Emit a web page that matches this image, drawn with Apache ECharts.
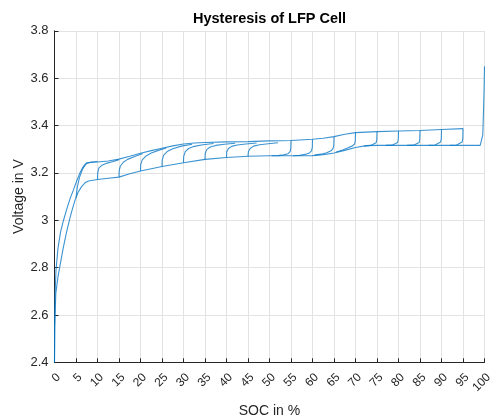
<!DOCTYPE html>
<html>
<head>
<meta charset="utf-8">
<script src="https://cdn.jsdelivr.net/npm/echarts@6/dist/echarts.min.js"></script>
<style>
  html, body { margin: 0; padding: 0; background: #fff; }
  #chart { width: 494px; height: 419px; }
</style>
</head>
<body>
<div id="chart"></div>
<script>
// values: [SOC %, voltage V]
const chargeBranch = [[0, 2.40], [0.03, 2.55], [0.12, 2.68], [0.35, 2.79], [0.8, 2.88], [1.4, 2.95], [2.1, 3.00], [2.9, 3.05], [3.6, 3.09], [4.4, 3.128], [5.2, 3.168], [5.9, 3.199], [6.5, 3.221], [7.0, 3.234], [7.5, 3.243], [10, 3.246], [12.5, 3.250], [15, 3.258], [17.5, 3.270], [20, 3.283], [22.5, 3.294], [25, 3.304], [27.5, 3.314], [30, 3.322], [32.5, 3.326], [35, 3.328], [40, 3.331], [45, 3.332], [50, 3.335], [55, 3.337], [60, 3.342], [62.5, 3.346], [65, 3.353], [67.5, 3.363], [70, 3.370], [75, 3.374], [80, 3.377], [85, 3.379], [90, 3.383], [95, 3.387]]
const dischargeBranch = [[0, 2.40], [0.06, 2.55], [0.3, 2.69], [0.8, 2.76], [1.3, 2.81], [2.0, 2.88], [2.8, 2.95], [3.6, 3.01], [4.2, 3.05], [4.8, 3.086], [5.5, 3.118], [6.3, 3.142], [7.1, 3.158], [7.9, 3.166], [10, 3.172], [12.5, 3.177], [15, 3.182], [17.5, 3.196], [20, 3.208], [25, 3.227], [30, 3.243], [35, 3.257], [40, 3.265], [45, 3.270], [50, 3.272], [55, 3.272], [60, 3.273], [62.5, 3.277], [65, 3.284], [67.5, 3.295], [70, 3.307], [72.5, 3.315], [75, 3.316], [80, 3.316], [85, 3.316], [90, 3.316], [95, 3.316], [99, 3.316], [99.4, 3.322], [99.6, 3.36], [99.75, 3.45], [99.9, 3.55], [100, 3.65]]

// charge after partial discharge (start on lower branch)
const chargeHook5 = [[5, 3.095], [5.3, 3.14], [5.8, 3.18], [6.5, 3.215], [7.3, 3.237], [8.5, 3.246], [10, 3.248]]
const chargeHook10 = [[10, 3.172], [10.05, 3.2], [10.3, 3.22], [11, 3.232], [12, 3.24], [13.5, 3.247], [15, 3.256]]
const chargeHook15 = [[15, 3.182], [15.05, 3.21], [15.3, 3.228], [16, 3.245], [17, 3.257], [18.5, 3.268], [20.5, 3.282]]
const chargeHook20 = [[20, 3.208], [20.05, 3.235], [20.4, 3.255], [21.2, 3.27], [22.5, 3.284], [24, 3.294], [26, 3.305]]
const chargeHook25 = [[25, 3.227], [25.05, 3.255], [25.4, 3.275], [26.2, 3.29], [27.5, 3.302], [29.5, 3.313], [32, 3.321]]
const chargeHook30 = [[30, 3.243], [30.05, 3.27], [30.4, 3.29], [31.2, 3.303], [32.5, 3.312], [34.5, 3.319], [37, 3.324]]
const chargeHook35 = [[35, 3.257], [35.05, 3.282], [35.4, 3.298], [36.2, 3.309], [37.5, 3.316], [39.5, 3.321], [42, 3.325]]
const chargeHook40 = [[40, 3.265], [40.05, 3.288], [40.4, 3.302], [41.2, 3.312], [42.5, 3.318], [44.5, 3.322], [47, 3.326]]
const chargeHook45 = [[45, 3.270], [45.1, 3.29], [45.5, 3.303], [46.3, 3.313], [47.7, 3.319], [49.7, 3.323], [52, 3.327]]

// discharge after partial charge (start on upper branch)
const dischargeHook55 = [[55, 3.337], [54.95, 3.303], [54.8, 3.29], [54.3, 3.281], [53.3, 3.276], [52, 3.273], [50.5, 3.272]]
const dischargeHook60 = [[60, 3.342], [59.95, 3.308], [59.8, 3.294], [59.3, 3.284], [58.3, 3.278], [57, 3.274], [55.5, 3.272]]
const dischargeHook65 = [[65, 3.353], [64.95, 3.318], [64.8, 3.303], [64.3, 3.293], [63.3, 3.285], [62, 3.279], [60.5, 3.275]]
const dischargeHook70 = [[70, 3.370], [69.95, 3.335], [69.8, 3.322], [69.3, 3.314], [68.3, 3.306], [67, 3.297], [65.5, 3.288]]
const dischargeHook75 = [[75, 3.374], [74.95, 3.34], [74.8, 3.327], [74.4, 3.32], [73.5, 3.316], [72, 3.313]]
const dischargeHook80 = [[80, 3.377], [79.95, 3.342], [79.8, 3.328], [79.4, 3.321], [78.5, 3.317], [77, 3.316]]
const dischargeHook85 = [[85, 3.379], [84.95, 3.343], [84.8, 3.328], [84.4, 3.321], [83.5, 3.317], [82, 3.316]]
const dischargeHook90 = [[90, 3.383], [89.95, 3.345], [89.8, 3.33], [89.4, 3.322], [88.5, 3.318], [87, 3.316]]
const dischargeHook95 = [[95, 3.387], [94.95, 3.345], [94.8, 3.33], [94.4, 3.322], [93.5, 3.318], [92, 3.316]]

const curves = [chargeBranch, dischargeBranch,
  chargeHook5, chargeHook10, chargeHook15, chargeHook20, chargeHook25, chargeHook30, chargeHook35, chargeHook40, chargeHook45,
  dischargeHook55, dischargeHook60, dischargeHook65, dischargeHook70, dischargeHook75, dischargeHook80, dischargeHook85, dischargeHook90, dischargeHook95]

const font = '"Liberation Sans", Arial, Helvetica, sans-serif'
const axisColor = '#262626'

let myChart = echarts.init(document.getElementById('chart'))
let option = {
  animation: false,
  title: {
    text: 'Hysteresis of LFP Cell',
    left: 193,
    top: 11,
    padding: 0,
    textStyle: { fontSize: 14.5, fontWeight: 'bold', color: '#000', fontFamily: font }
  },
  // fixed plot box, no automatic shrinking for labels
  grid: { left: 54.5, right: 9.5, top: 30.8, bottom: 56.7, containLabel: false, outerBoundsMode: 'none' },
  xAxis: {
    type: 'value',
    min: 0,
    max: 100,
    interval: 5,
    name: 'SOC in %',
    nameLocation: 'middle',
    nameGap: 42,
    nameMoveOverlap: false,
    nameTextStyle: { fontSize: 14, color: axisColor, fontFamily: font },
    axisLine: { lineStyle: { color: axisColor, width: 1 } },
    axisTick: { inside: true, length: 4, lineStyle: { color: axisColor } },
    // top-aligned rotated labels sit down/right of the tick, as in the picture
    axisLabel: { rotate: 45, verticalAlign: 'top', fontSize: 12, color: axisColor, fontFamily: font, margin: 9 },
    splitLine: { show: true, lineStyle: { color: '#e3e3e3', width: 1 } }
  },
  yAxis: {
    type: 'value',
    min: 2.4,
    max: 3.8,
    interval: 0.2,
    name: 'Voltage in V',
    nameLocation: 'middle',
    nameGap: 28,
    nameMoveOverlap: false,
    nameTextStyle: { fontSize: 14, color: axisColor, fontFamily: font },
    axisLine: { show: true, lineStyle: { color: axisColor, width: 1 } },
    axisTick: { show: true, inside: true, length: 4, lineStyle: { color: axisColor } },
    axisLabel: { fontSize: 13, color: axisColor, fontFamily: font, margin: 6 },
    splitLine: { show: true, lineStyle: { color: '#e3e3e3', width: 1 } }
  },
  series: curves.map(function (d) {
    return {
      type: 'line',
      data: d,
      showSymbol: false,
      silent: true,
      lineStyle: { color: '#0a78c6', width: 1.1, opacity: 0.8 }
    }
  })
}
myChart.setOption(option)
</script>
</body>
</html>
